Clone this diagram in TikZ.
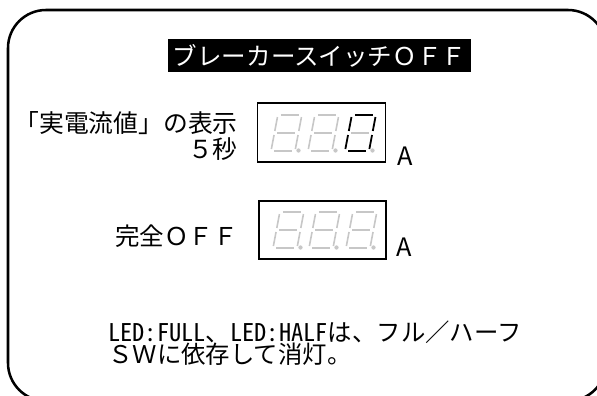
\documentclass[tikz,border=0pt]{standalone}
\usepackage{fontspec}
\setmainfont{Noto Sans CJK JP}
\newfontfamily\hw[RawFeature=+hwid]{Noto Sans CJK JP}
\tikzset{
  frame/.style={line width=1.9pt, rounded corners=28.5pt},
  dispbox/.style={draw, line width=1.4pt, minimum width=96pt, minimum height=44pt, inner sep=0pt},
  segoff/.style={draw=black!22, line width=1.2pt},
  segon/.style={draw=black, line width=1.35pt},
  lbl/.style={font=\fontsize{18}{19}\selectfont, inner sep=0pt},
  unit/.style={font=\fontsize{19}{20}\selectfont, inner sep=0pt},
}
% one segment: x0, yb, u1, v1, u2, v2, style
\newcommand\dseg[7]{\draw[#7] ({#1+#3+0.19*(#4)},{#2-(#4)}) -- ({#1+#5+0.19*(#6)},{#2-(#6)});}
% a digit: x0, yb, styles of a b c d e f g
\newcommand\ddigit[9]{%
  \dseg{#1}{#2}{3}{36}{21}{36}{#3}%
  \dseg{#1}{#2}{24}{34}{24}{20}{#4}%
  \dseg{#1}{#2}{24}{16}{24}{2}{#5}%
  \dseg{#1}{#2}{3}{0}{21}{0}{#6}%
  \dseg{#1}{#2}{0}{16}{0}{2}{#7}%
  \dseg{#1}{#2}{0}{34}{0}{20}{#8}%
  \dseg{#1}{#2}{3}{18}{21}{18}{#9}%
  \fill[black!22] ({#1+27.5},{#2-0.5}) circle (1.6pt);%
}
\begin{document}
\begin{tikzpicture}[x=0.75pt,y=-0.75pt]
\useasboundingbox (0,0) rectangle (597,396);
\begin{scope}
  \clip (0,0) rectangle (597,396);
  \draw[frame] (8,10) rectangle (606,401);
\end{scope}

\node[fill=black, text=white, minimum width=227pt, minimum height=24.75pt, inner sep=0pt,
      font=\fontsize{18.4}{19}\selectfont] (title) at (319.5,55.5) {ブレーカースイッチＯＦＦ};

\node[lbl, anchor=east, align=right, font=\fontsize{18.6}{19.5}\selectfont] (l1) at (238,136) {「実電流値」の表示\\５秒};
\node[dispbox] (d1) at (321.5,132.5) {};
\node[unit, anchor=base west] (a1) at (397,165) {A};

\ddigit{271}{151}{segoff}{segoff}{segoff}{segoff}{segoff}{segoff}{segoff}
\ddigit{308}{151}{segoff}{segoff}{segoff}{segoff}{segoff}{segoff}{segoff}
\ddigit{345}{151}{segon}{segon}{segon}{segon}{segon}{segon}{segoff}

\node[lbl, anchor=east, font=\fontsize{18.4}{19}\selectfont] (l2) at (238,236) {完全ＯＦＦ};
\node[dispbox, minimum width=95pt] (d2) at (322.5,230) {};
\node[unit, anchor=base west] (a2) at (396,256) {A};

\ddigit{273}{248}{segoff}{segoff}{segoff}{segoff}{segoff}{segoff}{segoff}
\ddigit{309}{248}{segoff}{segoff}{segoff}{segoff}{segoff}{segoff}{segoff}
\ddigit{346}{248}{segoff}{segoff}{segoff}{segoff}{segoff}{segoff}{segoff}

\node[lbl, anchor=west, align=left, font=\fontsize{18.3}{17}\selectfont] (note) at (108,343)
  {{\hw LED:FULL}、{\hw LED:HALF}は、フル／ハーフ\\ＳＷに依存して消灯。};
\end{tikzpicture}
\end{document}
